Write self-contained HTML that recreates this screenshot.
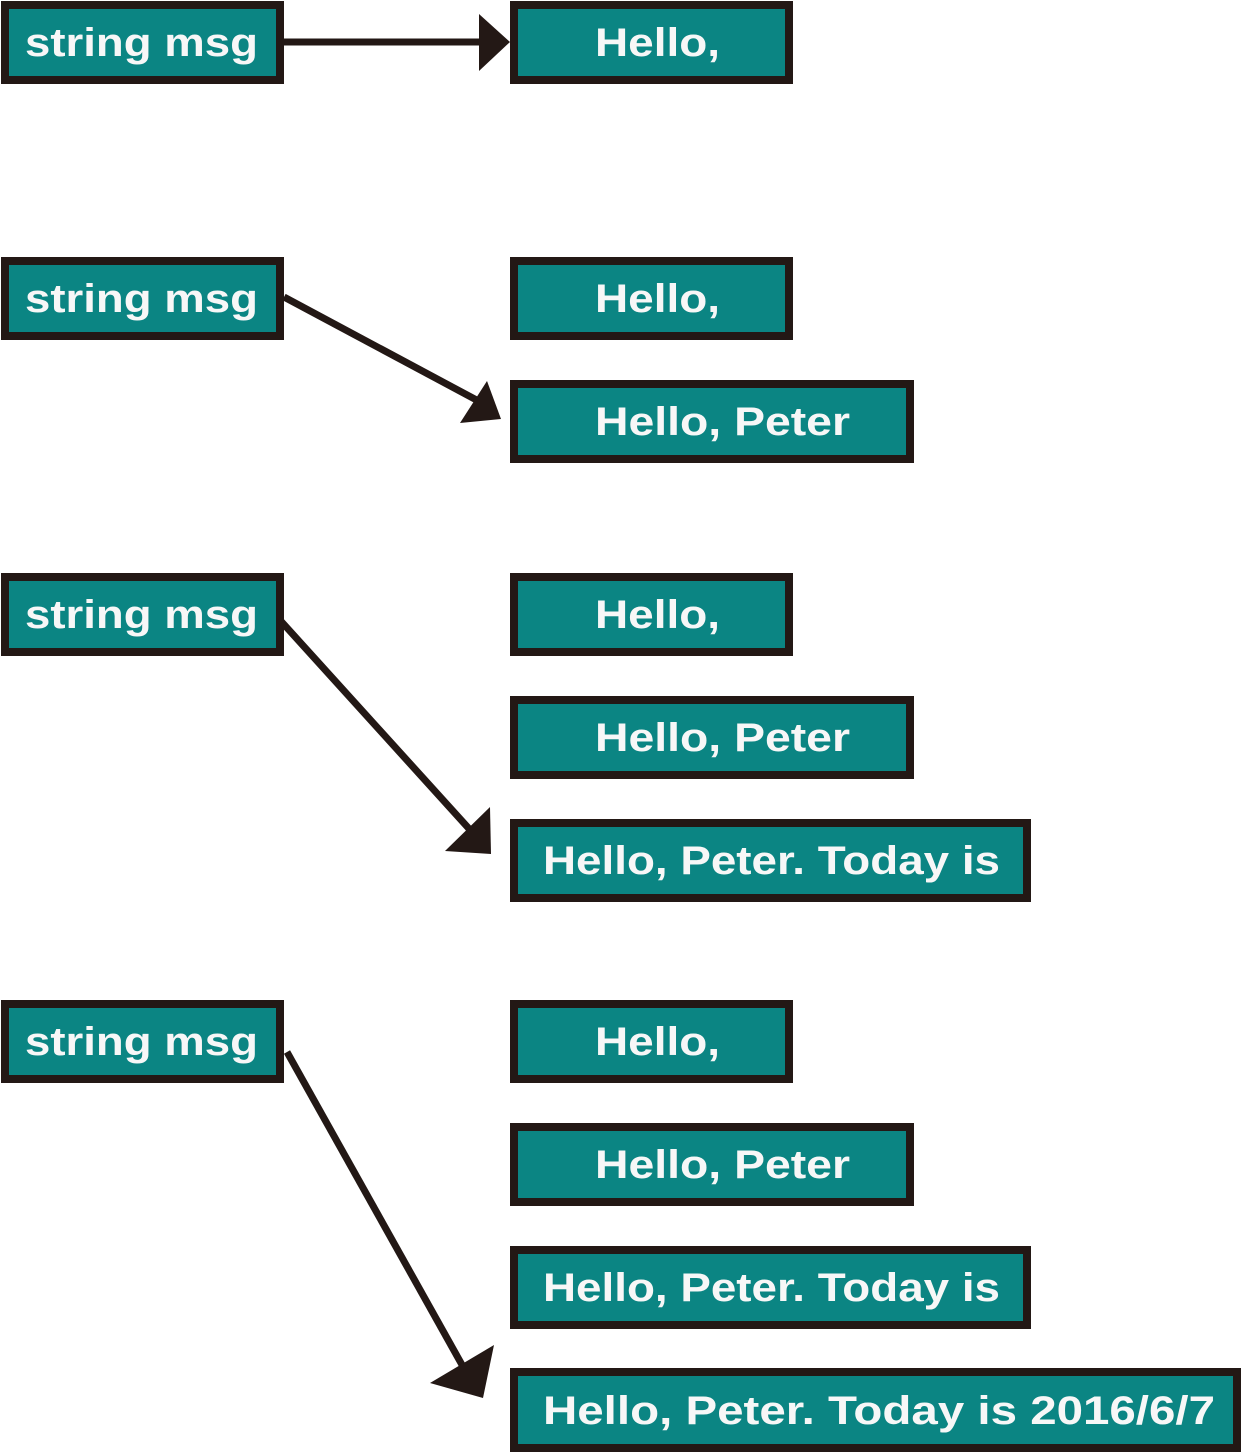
<!DOCTYPE html>
<html><head><meta charset="utf-8"><style>
html,body{margin:0;padding:0;background:#fff;width:1242px;height:1453px;overflow:hidden}
svg{display:block}
text{font-family:"Liberation Sans",sans-serif;font-weight:bold;font-size:40px;fill:#f7f7f7}
</style></head><body>
<svg width="1242" height="1453" viewBox="0 0 1242 1453">
<g fill="#0b8583" stroke="#231815" stroke-width="8">
<rect x="5" y="5" width="275" height="75"/>
<rect x="514" y="5" width="275" height="75"/>
<rect x="5" y="261" width="275" height="75"/>
<rect x="514" y="261" width="275" height="75"/>
<rect x="514" y="384" width="396" height="75"/>
<rect x="5" y="577" width="275" height="75"/>
<rect x="514" y="577" width="275" height="75"/>
<rect x="514" y="700" width="396" height="75"/>
<rect x="514" y="823" width="513" height="75"/>
<rect x="5" y="1004" width="275" height="75"/>
<rect x="514" y="1004" width="275" height="75"/>
<rect x="514" y="1127" width="396" height="75"/>
<rect x="514" y="1250" width="513" height="75"/>
<rect x="514" y="1372" width="723" height="76"/>
</g>
<g>
<text x="25" y="56" textLength="233" lengthAdjust="spacingAndGlyphs">string msg</text>
<text x="595" y="56" textLength="125" lengthAdjust="spacingAndGlyphs">Hello,</text>
<text x="25" y="312" textLength="233" lengthAdjust="spacingAndGlyphs">string msg</text>
<text x="595" y="312" textLength="125" lengthAdjust="spacingAndGlyphs">Hello,</text>
<text x="595" y="435" textLength="255" lengthAdjust="spacingAndGlyphs">Hello, Peter</text>
<text x="25" y="628" textLength="233" lengthAdjust="spacingAndGlyphs">string msg</text>
<text x="595" y="628" textLength="125" lengthAdjust="spacingAndGlyphs">Hello,</text>
<text x="595" y="751" textLength="255" lengthAdjust="spacingAndGlyphs">Hello, Peter</text>
<text x="543" y="874" textLength="457" lengthAdjust="spacingAndGlyphs">Hello, Peter. Today is</text>
<text x="25" y="1055" textLength="233" lengthAdjust="spacingAndGlyphs">string msg</text>
<text x="595" y="1055" textLength="125" lengthAdjust="spacingAndGlyphs">Hello,</text>
<text x="595" y="1178" textLength="255" lengthAdjust="spacingAndGlyphs">Hello, Peter</text>
<text x="543" y="1301" textLength="457" lengthAdjust="spacingAndGlyphs">Hello, Peter. Today is</text>
<text x="543" y="1424" textLength="672" lengthAdjust="spacingAndGlyphs">Hello, Peter. Today is 2016/6/7</text>
</g>
<g stroke="#231815" stroke-width="7" fill="none">
<line x1="284" y1="42" x2="484" y2="42"/>
<line x1="284" y1="297" x2="484" y2="404"/>
<line x1="279" y1="619" x2="472" y2="832"/>
<line x1="287" y1="1052" x2="466" y2="1372"/>
</g>
<g fill="#231815">
<polygon points="479,14 510,42 479,71"/>
<polygon points="460,423 501,419 487,381"/>
<polygon points="445,851 491,854 490,807"/>
<polygon points="430,1383 483,1398 494,1345"/>
</g>
</svg>
</body></html>
